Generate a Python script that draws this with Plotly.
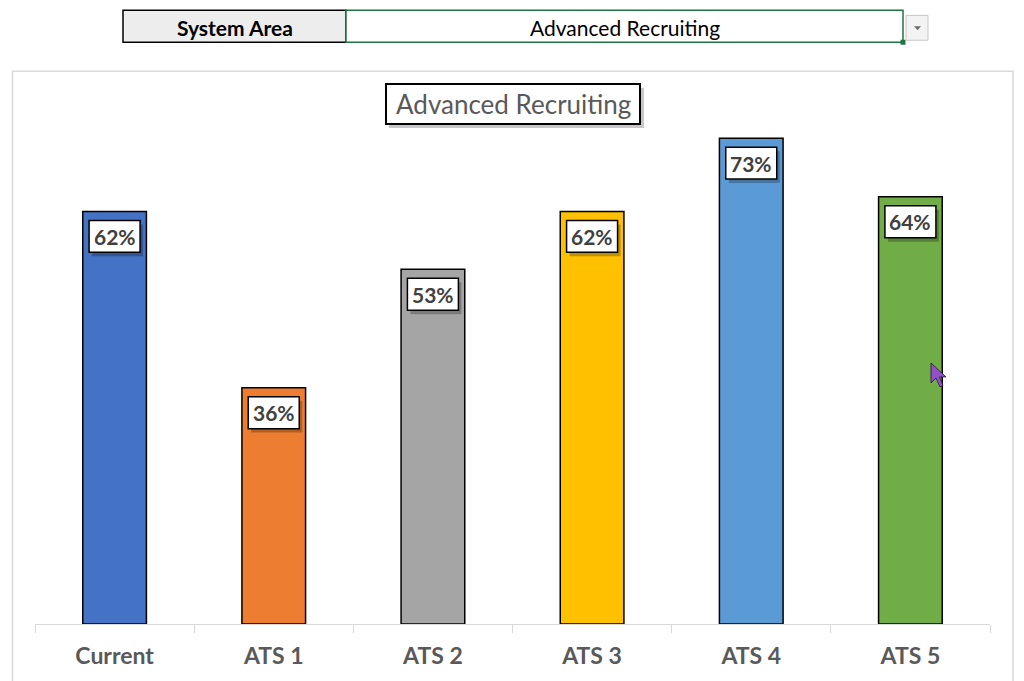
import plotly.graph_objects as go

categories = ["Current", "ATS 1", "ATS 2", "ATS 3", "ATS 4", "ATS 5"]
values = [0.62, 0.355, 0.533, 0.62, 0.73, 0.642]
value_labels = ["62%", "36%", "53%", "62%", "73%", "64%"]
bar_colors = ["#4472C4", "#ED7D31", "#A5A5A5", "#FFC000", "#5B9BD5", "#70AD47"]
chart_title = "Advanced Recruiting"
selector_label = "System Area"
selector_value = "Advanced Recruiting"

W, H = 1024, 681
L, R, T, B = 35, 990, 105, 626  # plot area in pixels
YMAX = 0.78
FONT = "Lato"
PX_PER_Y = (B - T) / YMAX  # pixels per data unit
PX_PER_CAT = (R - L) / len(categories)


def px(x):
    return (x - L) / (R - L)


def py(y):
    return (B - y) / (B - T)


fig = go.Figure()
fig.add_trace(go.Bar(
    x=categories, y=values, width=0.4,
    marker=dict(color=bar_colors, line=dict(color="black", width=1.5)),
    hoverinfo="skip",
))

shapes = []
annotations = []

# chart area border
shapes.append(dict(type="rect", xref="paper", yref="paper",
                   x0=px(12.5), x1=px(1013), y0=py(71), y1=py(700),
                   line=dict(color="#d9d9d9", width=1.5), fillcolor="rgba(0,0,0,0)"))

# selector cells
shapes.append(dict(type="rect", xref="paper", yref="paper",
                   x0=px(123), x1=px(346), y0=py(42), y1=py(10),
                   line=dict(color="black", width=1.5), fillcolor="#ededed"))
shapes.append(dict(type="rect", xref="paper", yref="paper",
                   x0=px(346), x1=px(903), y0=py(42), y1=py(10),
                   line=dict(color="#217346", width=1.5), fillcolor="white"))
shapes.append(dict(type="rect", xref="paper", yref="paper",
                   x0=px(900.5), x1=px(905.5), y0=py(44.5), y1=py(39.5),
                   line=dict(width=0), fillcolor="#217346"))
shapes.append(dict(type="rect", xref="paper", yref="paper",
                   x0=px(906), x1=px(928), y0=py(40), y1=py(15),
                   line=dict(color="#c6c6c6", width=1), fillcolor="#f3f3f3"))
shapes.append(dict(type="path", xref="paper", yref="paper",
                   path=f"M {px(914)} {py(26)} L {px(921)} {py(26)} L {px(917.5)} {py(30)} Z",
                   line=dict(width=0), fillcolor="#6d6d6d"))
annotations.append(dict(xref="paper", yref="paper", x=px(235), y=py(27),
                        xanchor="center", yanchor="middle",
                        text=f"<b>{selector_label}</b>", showarrow=False,
                        font=dict(family=FONT, size=21, color="black")))
annotations.append(dict(xref="paper", yref="paper", x=px(624.5), y=py(27),
                        xanchor="center", yanchor="middle",
                        text=selector_value, showarrow=False,
                        font=dict(family=FONT, size=21, color="black")))

# title box with shadow
shapes.append(dict(type="rect", xref="paper", yref="paper",
                   x0=px(389), x1=px(644), y0=py(128), y1=py(88),
                   line=dict(width=0), fillcolor="rgba(0,0,0,0.22)"))
shapes.append(dict(type="rect", xref="paper", yref="paper",
                   x0=px(386), x1=px(640), y0=py(124), y1=py(84),
                   line=dict(color="black", width=2), fillcolor="white"))
annotations.append(dict(xref="paper", yref="paper", x=px(513), y=py(104),
                        xanchor="center", yanchor="middle",
                        text=chart_title, showarrow=False,
                        font=dict(family=FONT, size=26, color="#595959")))

# data labels: box + shadow as shapes, text as annotation
bw = 51 / PX_PER_CAT / 2
for i, (c, v, lab) in enumerate(zip(categories, values, value_labels)):
    top = v - 9 / PX_PER_Y
    bot = v - 41 / PX_PER_Y
    dx = 3 / PX_PER_CAT
    dy = 4 / PX_PER_Y
    shapes.append(dict(type="rect", xref="x", yref="y",
                       x0=i - bw + dx, x1=i + bw + dx, y0=bot - dy, y1=top - dy,
                       line=dict(width=0), fillcolor="rgba(0,0,0,0.25)"))
    shapes.append(dict(type="rect", xref="x", yref="y",
                       x0=i - bw, x1=i + bw, y0=bot, y1=top,
                       line=dict(color="black", width=1.5), fillcolor="white"))
    annotations.append(dict(x=c, y=(top + bot) / 2, xref="x", yref="y",
                            text=f"<b>{lab}</b>", showarrow=False,
                            xanchor="center", yanchor="middle",
                            font=dict(family=FONT, size=21, color="#404040")))

# mouse cursor decoration
cur = [(931, 364), (931, 384), (936, 379), (940, 388), (943, 386.5), (939.5, 378), (946, 378)]
path = "M " + " L ".join(f"{px(a)} {py(b)}" for a, b in cur) + " Z"
shapes.append(dict(type="path", xref="paper", yref="paper", path=path,
                   line=dict(color="#2a1040", width=0.8), fillcolor="#9350c8"))

fig.update_layout(
    width=W, height=H,
    margin=dict(l=L, r=W - R, t=T, b=H - B, pad=0),
    paper_bgcolor="white", plot_bgcolor="white",
    showlegend=False, bargap=0.6,
    shapes=shapes, annotations=annotations,
    xaxis=dict(type="category", showline=True, linecolor="#d9d9d9", linewidth=1,
               ticks="outside", tickson="boundaries", ticklen=8, tickcolor="#d9d9d9",
               ticklabelstandoff=11,
               tickfont=dict(family=FONT, size=23, color="#595959"),
               tickprefix="<b>", ticksuffix="</b>", showgrid=False, zeroline=False,
               fixedrange=True),
    yaxis=dict(visible=False, range=[0, YMAX], showgrid=False, zeroline=False,
               fixedrange=True),
)

fig.write_html("out.html", config={"displayModeBar": False},
               post_script="document.body.style.margin='0';document.body.style.overflow='hidden';")
